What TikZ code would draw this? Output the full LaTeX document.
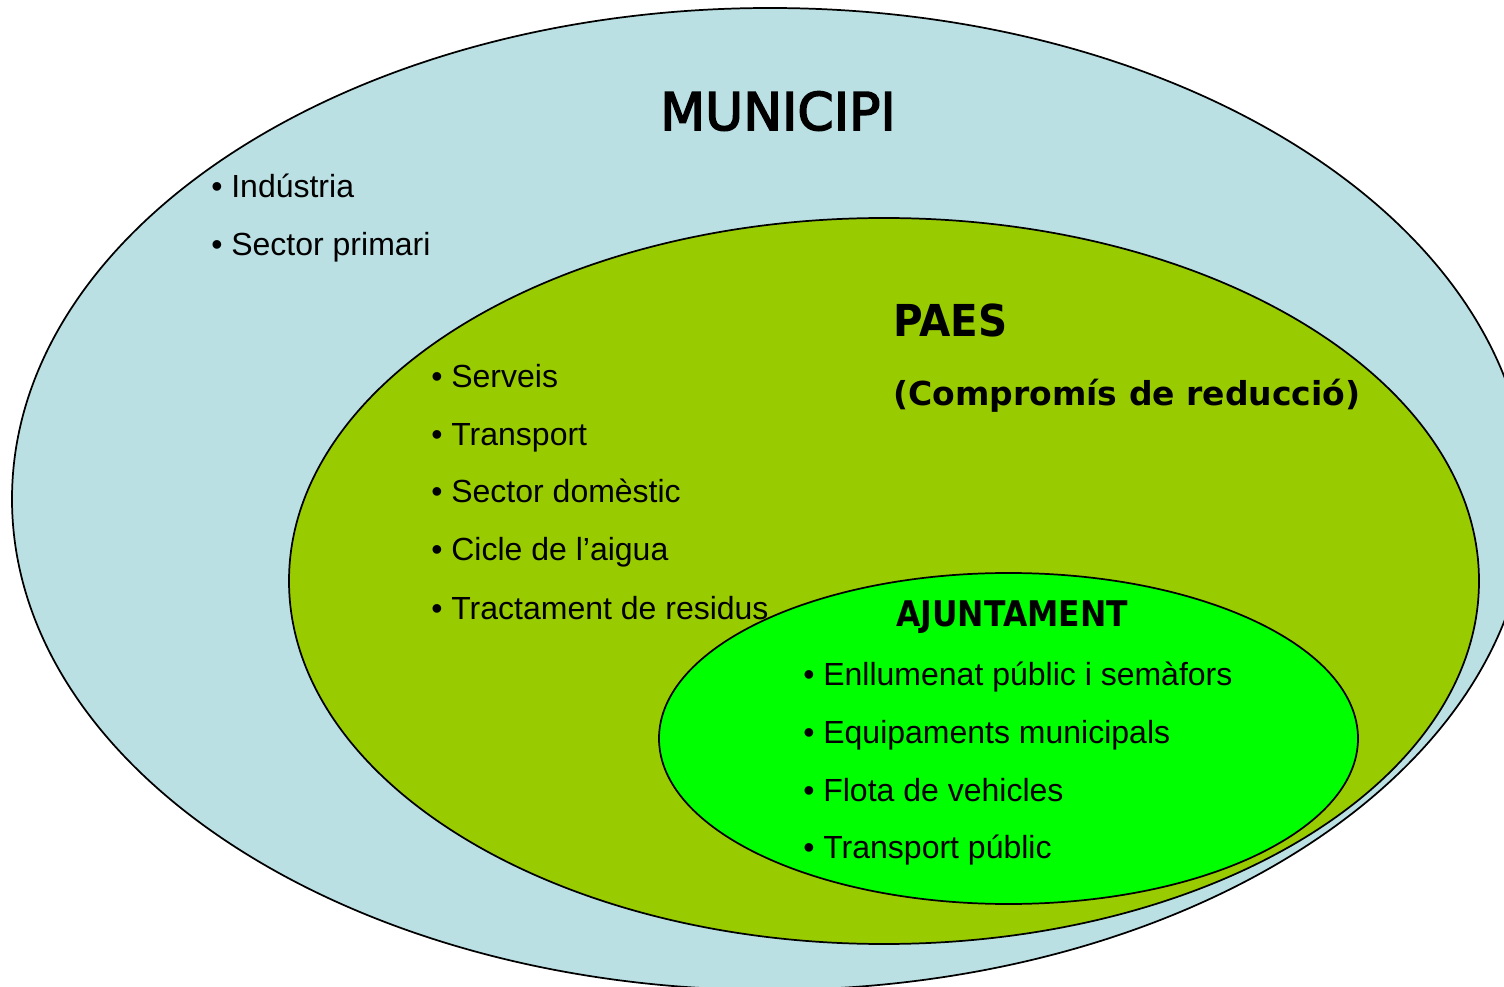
\documentclass[tikz,border=0pt]{standalone}
\usepackage{fontspec}
\usepackage{graphicx}
\setmainfont{Liberation Sans}
\newfontfamily\titlefont{DejaVu Sans}
\newfontfamily\munifont[FakeBold=3]{DejaVu Sans}
\usepackage{tikz}
\definecolor{munblue}{HTML}{BBE0E3}
\definecolor{paesgreen}{HTML}{99CC00}
\definecolor{ajungreen}{HTML}{00FF00}

\begin{document}
\begin{tikzpicture}[x=0.75pt,y=0.75pt,yscale=-1,xscale=1,
    itemtxt/.style={anchor=base west,inner sep=0pt,font=\fontsize{24}{28}\selectfont},
    titletxt/.style={anchor=base west,inner sep=0pt}]
        \useasboundingbox (0,0) rectangle (1504,987);
        \clip (0,0) rectangle (1504,987);

        %Shape: Ellipse [id:municipi]
        \draw [fill=munblue,line width=1.3pt] (770,499) ellipse (758 and 491);
        %Shape: Ellipse [id:paes]
        \draw [fill=paesgreen,line width=1.3pt] (884,581) ellipse (595 and 363);
        %Shape: Ellipse [id:ajuntament]
        \draw [fill=ajungreen,line width=1.3pt] (1008.5,738.5) ellipse (349.5 and 165.5);

        % Text Node
        \draw (660,130) node [titletxt] (tmun) {\munifont\fontsize{39}{44}\selectfont MUNICIPI};
        % Text Node
        \draw (893,337) node [titletxt] (tpaes) {\scalebox{0.92}[1]{\titlefont\bfseries\fontsize{33}{36}\selectfont PAES}};
        % Text Node
        \draw (893,406) node [titletxt] (tcomp) {\titlefont\bfseries\fontsize{24.75}{28}\selectfont (Compromís de reducció)};
        % Text Node
        \draw (896,626) node [titletxt] (tajun) {\scalebox{0.89}[1]{\titlefont\bfseries\fontsize{26.5}{30}\selectfont AJUNTAMENT}};

        % Text Node
        \draw (211,198) node [itemtxt] (ind) {• Indústria};
        % Text Node
        \draw (211,256) node [itemtxt] (prim) {• Sector primari};

        % Text Node
        \draw (431,388) node [itemtxt] (serv) {• Serveis};
        % Text Node
        \draw (431,446) node [itemtxt] (trans) {• Transport};
        % Text Node
        \draw (431,503) node [itemtxt] (dom) {• Sector domèstic};
        % Text Node
        \draw (431,561) node [itemtxt] (aigua) {• Cicle de l’aigua};
        % Text Node
        \draw (431,619) node [itemtxt] (resid) {• Tractament de residus};

        % Text Node
        \draw (803,685) node [itemtxt] (enll) {• Enllumenat públic i semàfors};
        % Text Node
        \draw (803,743) node [itemtxt] (equip) {• Equipaments municipals};
        % Text Node
        \draw (803,801) node [itemtxt] (flota) {• Flota de vehicles};
        % Text Node
        \draw (803,858) node [itemtxt] (tpub) {• Transport públic};

\end{tikzpicture}
\end{document}
